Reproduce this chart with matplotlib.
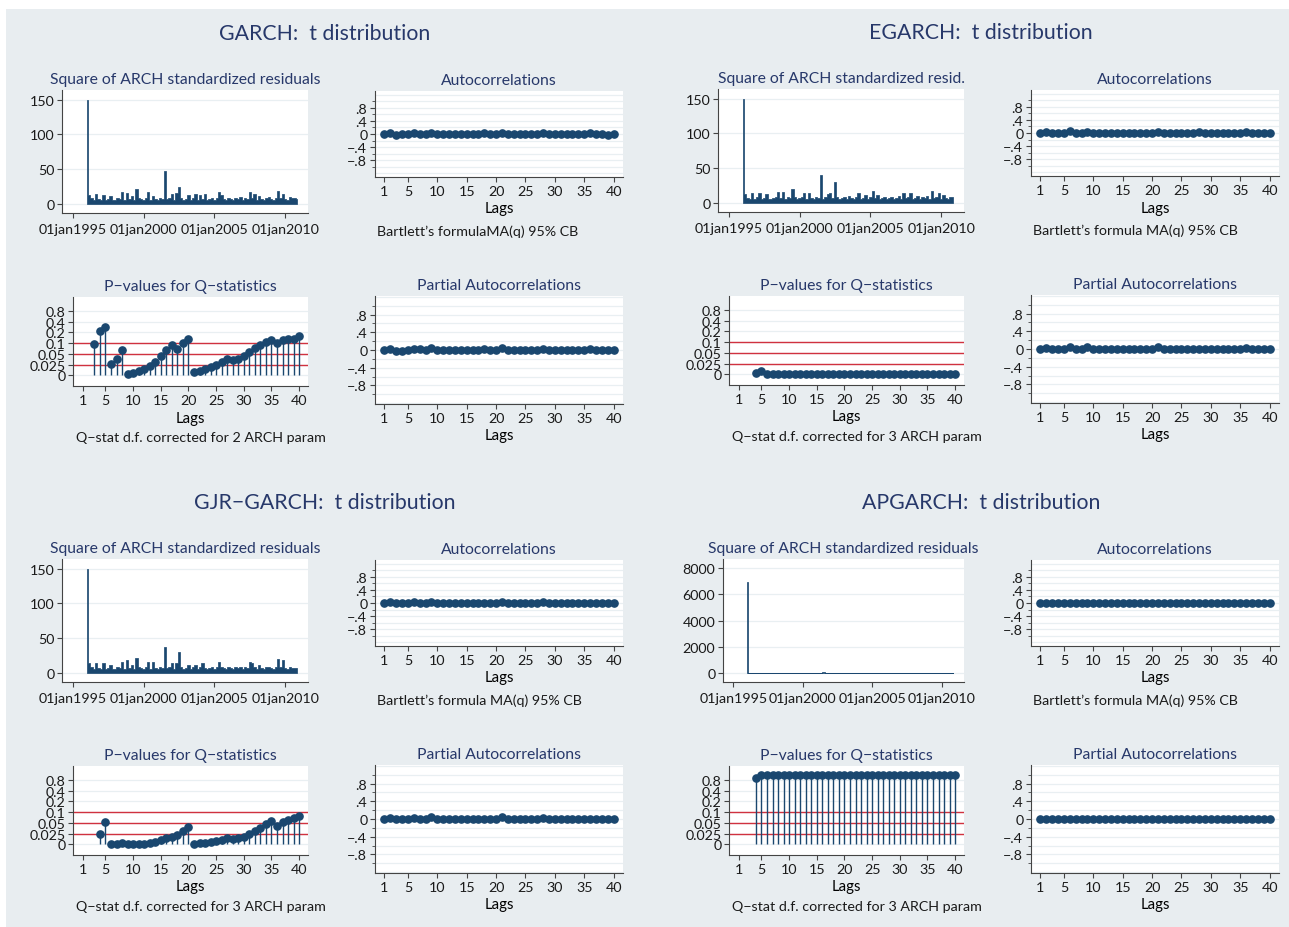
import numpy as np
import pandas as pd
import matplotlib
matplotlib.use("Agg")
import matplotlib.pyplot as plt
from matplotlib.patches import Rectangle

W, H = 1289, 928
plt.rcParams["font.family"] = ["Lato", "DejaVu Sans"]

NAVY = "#1a476f"
TITLE_C = "#27386a"
RED = "#d0323f"
GRID_C = "#e9eff2"
BG = "#e8edf0"
AXIS_C = "#444444"

models = ["GARCH", "EGARCH", "GJR\u2212GARCH", "APGARCH"]
resid_titles = ["Square of ARCH standardized residuals", "Square of ARCH standardized resid.",
                "Square of ARCH standardized residuals", "Square of ARCH standardized residuals"]
acf_notes = ["Bartlett\u2019s formulaMA(q) 95% CB", "Bartlett\u2019s formula MA(q) 95% CB",
             "Bartlett\u2019s formula MA(q) 95% CB", "Bartlett\u2019s formula MA(q) 95% CB"]
q_notes = ["Q\u2212stat d.f. corrected for 2 ARCH param", "Q\u2212stat d.f. corrected for 3 ARCH param",
           "Q\u2212stat d.f. corrected for 3 ARCH param", "Q\u2212stat d.f. corrected for 3 ARCH param"]

# squared standardized residuals, peak per two-month block
dates = pd.date_range("1996-01-01", periods=90, freq="2MS")
resid_garch = [150, 13, 8, 6, 14, 7, 5, 13, 6, 7, 12, 5, 6, 8, 7, 17, 6, 16, 7, 11,
               6, 22, 8, 7, 6, 9, 17, 6, 12, 7, 6, 8, 7, 47, 7, 9, 15, 6, 16, 24,
               8, 6, 7, 13, 6, 8, 14, 6, 13, 7, 14, 6, 7, 8, 6, 9, 17, 13, 7, 6,
               8, 7, 6, 9, 7, 10, 6, 8, 7, 17, 8, 14, 6, 12, 7, 6, 8, 10, 7, 6,
               9, 18, 8, 14, 7, 6, 10, 8, 8, 7]
resid_egarch = [150, 13, 7, 6, 14, 6, 8, 15, 6, 7, 13, 6, 5, 7, 8, 16, 7, 16, 6, 9,
                7, 20, 8, 6, 7, 8, 15, 6, 15, 7, 6, 8, 7, 40, 6, 8, 13, 14, 7, 30,
                8, 6, 7, 9, 6, 10, 7, 6, 8, 15, 6, 7, 12, 6, 8, 17, 7, 12, 6, 7,
                8, 6, 7, 8, 6, 7, 10, 6, 15, 7, 8, 14, 6, 7, 10, 6, 8, 7, 10, 6,
                17, 7, 8, 15, 6, 12, 7, 6, 8, 8]
resid_gjr = [150, 14, 8, 6, 14, 7, 6, 14, 6, 7, 12, 6, 5, 8, 7, 16, 6, 18, 7, 12,
             6, 22, 8, 7, 6, 9, 16, 6, 16, 7, 6, 8, 7, 37, 7, 9, 14, 6, 15, 30,
             8, 6, 7, 12, 6, 8, 12, 6, 8, 14, 7, 6, 7, 8, 6, 9, 16, 8, 7, 6,
             8, 7, 6, 9, 7, 8, 6, 8, 7, 16, 14, 8, 6, 11, 7, 6, 8, 9, 7, 6,
             9, 20, 8, 18, 7, 6, 8, 7, 7, 7]
resid_apgarch = [6950, 40, 25, 20, 35, 22, 18, 30, 20, 24, 28, 18, 20, 22, 25, 35, 20, 30, 22, 26,
                 20, 40, 24, 22, 20, 25, 32, 20, 28, 22, 20, 24, 22, 45, 22, 25, 30, 20, 30, 38,
                 24, 20, 22, 28, 20, 24, 30, 20, 28, 22, 30, 20, 22, 24, 20, 25, 32, 28, 22, 20,
                 24, 22, 20, 25, 22, 26, 20, 24, 22, 32, 24, 30, 20, 28, 22, 20, 24, 26, 22, 20,
                 25, 34, 24, 30, 22, 20, 26, 24, 24, 22]
resid = [resid_garch, resid_egarch, resid_gjr, resid_apgarch]

lags = np.arange(1, 41)
acf = [
    [0.0, 0.03, -0.02, -0.01, -0.01, 0.02, 0.01, 0.0, 0.04, 0.0, -0.01, -0.01, 0.0, 0.0, 0.0, -0.01, 0.0, 0.02, 0.0, -0.01,
     0.04, 0.0, -0.01, 0.0, -0.01, 0.0, 0.0, 0.02, 0.01, 0.0, -0.01, 0.0, 0.01, 0.0, 0.0, 0.02, 0.0, 0.0, -0.02, 0.0],
    [0.0, 0.03, -0.01, 0.0, -0.01, 0.05, 0.01, 0.0, 0.04, 0.0, 0.0, -0.01, 0.0, 0.0, 0.0, 0.0, 0.0, 0.01, 0.0, 0.0,
     0.04, 0.0, 0.0, 0.0, 0.0, 0.0, 0.0, 0.02, 0.01, 0.0, 0.0, 0.0, 0.01, 0.0, 0.0, 0.02, 0.0, 0.0, 0.0, 0.0],
    [0.0, 0.03, -0.01, -0.01, 0.0, 0.03, 0.01, 0.0, 0.04, 0.0, -0.01, 0.0, 0.0, 0.0, 0.0, -0.01, 0.0, 0.01, 0.0, 0.0,
     0.04, 0.0, -0.01, 0.0, -0.01, 0.0, 0.0, 0.02, 0.01, 0.0, 0.0, 0.0, 0.01, 0.0, 0.0, 0.01, 0.0, 0.0, -0.01, 0.0],
    [0.0, 0.0, 0.0, 0.0, 0.0, 0.0, 0.0, 0.0, 0.0, 0.0, 0.0, 0.0, 0.0, 0.0, 0.0, 0.0, 0.0, 0.0, 0.0, 0.0,
     0.0, 0.0, 0.0, 0.0, 0.0, 0.0, 0.0, 0.0, 0.0, 0.0, 0.0, 0.0, 0.0, 0.0, 0.0, 0.0, 0.0, 0.0, 0.0, 0.0],
]
pacf = [
    [0.0, 0.03, -0.02, -0.02, -0.01, 0.03, 0.02, 0.0, 0.04, 0.01, -0.01, -0.01, 0.0, 0.0, 0.0, 0.0, 0.0, 0.02, -0.01, 0.0,
     0.04, -0.01, -0.01, 0.0, -0.01, 0.0, -0.01, 0.02, 0.01, -0.01, 0.0, 0.0, 0.01, 0.0, 0.0, 0.02, -0.01, 0.0, -0.01, 0.0],
    [0.0, 0.03, -0.01, 0.0, -0.01, 0.05, 0.01, 0.0, 0.04, 0.0, 0.0, 0.0, 0.0, 0.0, 0.0, 0.0, 0.0, 0.01, 0.0, 0.01,
     0.04, 0.0, 0.0, 0.0, 0.0, 0.0, 0.0, 0.01, 0.01, 0.0, 0.0, 0.0, 0.01, 0.0, 0.0, 0.02, 0.0, 0.0, 0.0, 0.0],
    [0.0, 0.03, -0.01, -0.01, 0.0, 0.03, 0.01, 0.0, 0.04, 0.0, -0.01, 0.0, 0.0, 0.0, 0.0, 0.0, 0.0, 0.01, 0.0, 0.0,
     0.04, 0.0, -0.01, 0.0, -0.01, 0.0, 0.0, 0.02, 0.01, 0.0, 0.0, 0.0, 0.01, 0.0, 0.0, 0.01, 0.0, 0.0, -0.01, 0.0],
    [0.0, 0.0, 0.0, 0.0, 0.0, 0.0, 0.0, 0.0, 0.0, 0.0, 0.0, 0.0, 0.0, 0.0, 0.0, 0.0, 0.0, 0.0, 0.0, 0.0,
     0.0, 0.0, 0.0, 0.0, 0.0, 0.0, 0.0, 0.0, 0.0, 0.0, 0.0, 0.0, 0.0, 0.0, 0.0, 0.0, 0.0, 0.0, 0.0, 0.0],
]

# Ljung-Box p-values; first lags are lost to the ARCH parameters
q_lags = [np.arange(3, 41), np.arange(4, 41), np.arange(4, 41), np.arange(4, 41)]
pvals = [
    [0.094, 0.22, 0.306, 0.027, 0.039, 0.068, 0.004, 0.005, 0.009, 0.015, 0.022, 0.032, 0.045, 0.068, 0.09, 0.071,
     0.104, 0.135, 0.0085, 0.010, 0.014, 0.020, 0.024, 0.031, 0.039, 0.036, 0.039, 0.046, 0.059, 0.079, 0.09, 0.11,
     0.129, 0.099, 0.129, 0.142, 0.142, 0.166],
    [0.002, 0.0085, 0.0, 0.0, 0.0, 0.0, 0.0, 0.0, 0.0, 0.0, 0.0, 0.0, 0.0, 0.0, 0.0, 0.0, 0.0, 0.0, 0.0,
     0.0, 0.0, 0.0, 0.0, 0.0, 0.0, 0.0, 0.0, 0.0, 0.0, 0.0, 0.0, 0.0, 0.0, 0.0, 0.0, 0.0, 0.0],
    [0.023, 0.056, 0.001, 0.001, 0.002, 0.001, 0.0, 0.001, 0.001, 0.002, 0.005, 0.009, 0.014, 0.018, 0.022, 0.030,
     0.041, 0.001, 0.002, 0.003, 0.005, 0.007, 0.009, 0.014, 0.012, 0.014, 0.017, 0.023, 0.031, 0.039, 0.048,
     0.059, 0.043, 0.053, 0.062, 0.071, 0.082],
    [0.884, 0.99, 0.99, 0.99, 0.99, 0.99, 0.99, 0.99, 0.99, 0.99, 0.99, 0.99, 0.99, 0.99, 0.99, 0.99, 0.99, 0.99,
     0.99, 0.99, 0.99, 0.99, 0.99, 0.99, 0.99, 0.99, 0.99, 0.99, 0.99, 0.99, 0.99, 0.99, 0.99, 0.99, 0.99, 0.99, 0.99],
]

p_ticks = [0, 0.025, 0.05, 0.1, 0.2, 0.4, 0.8]
p_tick_labels = ["0", "0.025", "0.05", "0.1", "0.2", "0.4", "0.8"]
p_knots = [-0.025, 0, 0.025, 0.05, 0.1, 0.2, 0.4, 0.8, 1.0, 1.2]
p_pos = [-1, 0, 1, 2, 3, 4, 5, 6, 6.5, 7.5]


def p_forward(v):
    return np.interp(v, p_knots, p_pos)


def p_inverse(v):
    return np.interp(v, p_pos, p_knots)


fig = plt.figure(figsize=(W / 100, H / 100), dpi=100, facecolor="white")
fig.patches.append(Rectangle((6 / W, 0), 1, 1 - 10 / H, transform=fig.transFigure,
                             facecolor=BG, edgecolor="none", zorder=-10))


def rect(l, t, r, b):
    return [l / W, 1 - b / H, (r - l) / W, (b - t) / H]


def style(ax, title):
    ax.set_facecolor("white")
    for s in ["top", "right"]:
        ax.spines[s].set_visible(False)
    for s in ["left", "bottom"]:
        ax.spines[s].set_color(AXIS_C)
        ax.spines[s].set_linewidth(0.8)
    ax.tick_params(direction="out", length=3.5, width=0.8, color=AXIS_C, labelsize=10.3,
                   labelcolor="#1a1a1a", pad=2)
    ax.set_title(title, fontsize=11.3, color=TITLE_C, pad=5)
    ax.set_axisbelow(True)


def lag_axis(ax, xmin):
    ax.set_xlim(xmin, 41.6)
    ax.set_xticks([1, 5, 10, 15, 20, 25, 30, 35, 40])
    ax.set_xlabel("Lags", fontsize=10.8, labelpad=3.5)


def corr_axis(ax, vals, ylim):
    ax.set_ylim(-ylim, ylim)
    for g in np.arange(-1.2, 1.21, 0.2):
        ax.axhline(g, color=GRID_C, lw=0.9, zorder=0)
    ax.set_yticks([0.8, 0.4, 0, -0.4, -0.8])
    ax.set_yticklabels([".8", ".4", "0", "\u2212.4", "\u2212.8"])
    ax.set_yticks([1.0, 0.6, 0.2, -0.2, -0.6, -1.0], minor=True)
    ax.tick_params(axis="y", which="minor", length=2, color=AXIS_C)
    ax.vlines(lags, 0, vals, color=NAVY, lw=0.9)
    ax.plot(lags, vals, "o", ms=5.2, color=NAVY)
    lag_axis(ax, -0.6)


offsets = [(0, 0), (656, -1), (0, 469), (656, 469)]

for i, name in enumerate(models):
    dx, dy = offsets[i]
    cx = 325 + dx
    fig.text(cx / W, 1 - (34 + dy) / H, name + ":  t distribution", ha="center", va="center",
             fontsize=15.3, color=TITLE_C)

    # squared residuals over time
    left = 723 if name == "APGARCH" else 62 + dx
    ax = fig.add_axes(rect(left, 91 + dy, 308 + dx, 214 + dy))
    style(ax, resid_titles[i])
    ax.fill_between(dates.to_numpy(), 0, resid[i], step="mid", facecolor=NAVY,
                    edgecolor=NAVY, lw=0.5)
    ax.set_xlim(pd.Timestamp("1994-04-01"), pd.Timestamp("2011-08-10"))
    ax.set_xticks([pd.Timestamp(f"{y}-01-01") for y in (1995, 2000, 2005, 2010)])
    ax.set_xticklabels([f"01jan{y}" for y in (1995, 2000, 2005, 2010)])
    ax.tick_params(axis="x", pad=4)
    if name == "APGARCH":
        ax.set_ylim(-680, 8700)
        ax.set_yticks([0, 2000, 4000, 6000, 8000])
    else:
        ax.set_ylim(-13, 164)
        ax.set_yticks([0, 50, 100, 150])
    ax.grid(axis="y", color=GRID_C, lw=0.9)

    # autocorrelations
    ax = fig.add_axes(rect(375 + dx, 92 + dy, 623 + dx, 178 + dy))
    style(ax, "Autocorrelations")
    corr_axis(ax, acf[i], 1.31)
    fig.text((377 + dx) / W, 1 - (232 + dy) / H, acf_notes[i], ha="left", va="center",
             fontsize=10.3, color="#1a1a1a")

    # p-values of the Q statistics
    ax = fig.add_axes(rect(73 + dx, 298 + dy, 308 + dx, 387 + dy))
    style(ax, "P\u2212values for Q\u2212statistics")
    ax.set_yscale("function", functions=(p_forward, p_inverse))
    ax.set_ylim(-0.026, 1.16)
    ax.set_yticks(p_ticks)
    ax.set_yticklabels(p_tick_labels)
    ax.yaxis.set_minor_locator(plt.NullLocator())
    ax.tick_params(axis="y", labelsize=10.3)
    ax.grid(axis="y", color=GRID_C, lw=0.9)
    for lvl in (0.025, 0.05, 0.1):
        ax.axhline(lvl, color=RED, lw=1.0, zorder=1)
    ax.vlines(q_lags[i], 0, pvals[i], color=NAVY, lw=1.0, zorder=2)
    ax.plot(q_lags[i], pvals[i], "o", ms=5.2, color=NAVY, zorder=3)
    lag_axis(ax, -0.86)
    fig.text((76 + dx) / W, 1 - (438 + dy) / H, q_notes[i], ha="left", va="center",
             fontsize=10.3, color="#1a1a1a")

    # partial autocorrelations
    ax = fig.add_axes(rect(375 + dx, 297 + dy, 623 + dx, 405 + dy))
    style(ax, "Partial Autocorrelations")
    corr_axis(ax, pacf[i], 1.22)

fig.savefig("out.png", dpi=100, facecolor="white")
